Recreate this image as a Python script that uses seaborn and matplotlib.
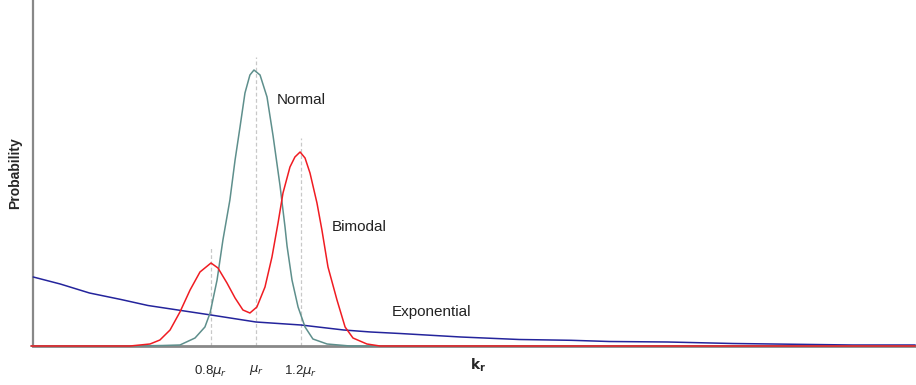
import pandas as pd
import matplotlib.pyplot as plt
import seaborn as sns

# x in units of mu_r, y in arbitrary probability units
normal_x = [0.0, 0.44, 0.587, 0.662, 0.729, 0.773, 0.796, 0.827, 0.853, 0.884, 0.907, 0.929,
            0.951, 0.973, 0.991, 1.018, 1.049, 1.076, 1.107, 1.129, 1.138, 1.16, 1.187,
            1.218, 1.253, 1.316, 1.418, 3.93]
normal_y = [0, 0, 0.5, 1, 8, 19, 33, 66, 106, 146, 186, 219,
            253, 271, 276, 271, 249, 210, 160, 119, 100, 66, 39,
            19, 7, 2, 0, 0]

bimodal_x = [0.0, 0.44, 0.529, 0.573, 0.618, 0.662, 0.707, 0.751, 0.80, 0.831, 0.871, 0.907,
             0.942, 0.973, 1.004, 1.04, 1.071, 1.098, 1.12, 1.151, 1.173, 1.196, 1.218,
             1.24, 1.271, 1.293, 1.32, 1.36, 1.396, 1.431, 1.493, 1.551, 3.93]
bimodal_y = [0, 0, 2, 6, 16, 34, 56, 74, 83, 78, 63, 48,
             36, 33, 39, 59, 89, 123, 153, 179, 189, 194, 188,
             173, 143, 116, 79, 46, 19, 8, 2, 0, 0]

expo_x = [0.01, 0.13, 0.26, 0.40, 0.52, 0.80, 1.00, 1.20, 1.39, 1.51, 1.64, 1.91,
          2.17, 2.40, 2.57, 2.83, 3.12, 3.65, 3.93]
expo_y = [69, 62, 53, 46.5, 40.5, 31, 24, 21, 16, 14, 12.5, 9,
          6.5, 5.7, 4.5, 4, 2.5, 1, 1]

tick_pos = [0.8, 1.0, 1.2]
tick_labels = [r"0.8$\mu_r$", r"$\mu_r$", r"1.2$\mu_r$"]
guide_top = [98, 289, 208]

df = pd.concat([
    pd.DataFrame({"k": expo_x, "p": expo_y, "dist": "Exponential"}),
    pd.DataFrame({"k": normal_x, "p": normal_y, "dist": "Normal"}),
    pd.DataFrame({"k": bimodal_x, "p": bimodal_y, "dist": "Bimodal"}),
], ignore_index=True)

sns.set_style("white")
plt.rcParams["font.family"] = ["Liberation Sans", "DejaVu Sans"]

fig = plt.figure(figsize=(9.16, 3.85), dpi=100)
ax = fig.add_axes([33 / 916, 39 / 385, 882 / 916, 346 / 385])

# dashed guides at the tick positions
ax.vlines(tick_pos, 0, guide_top, colors="#c8c8c8", linestyles=(0, (3, 2)), linewidth=0.9, zorder=1)

palette = {"Exponential": "#24249c", "Normal": "#5e8f8c", "Bimodal": "#f01c22"}
sns.lineplot(data=df, x="k", y="p", hue="dist", palette=palette, estimator=None,
             sort=False, linewidth=1.1, legend=False, ax=ax, zorder=3)
for ln in ax.lines:
    ln.set_clip_on(False)

ax.set_xlim(0.0089, 3.929)
ax.set_ylim(0, 346)
ax.set_yticks([])
ax.set_xticks(tick_pos)
ax.set_xticklabels(tick_labels, fontsize=9.5)
ax.tick_params(axis="x", direction="out", length=4, width=0.8, color="#555555", pad=8)

for s in ["top", "right"]:
    ax.spines[s].set_visible(False)
ax.spines["left"].set_color("#888888")
ax.spines["left"].set_linewidth(1.6)
ax.spines["bottom"].set_color("#888888")
ax.spines["bottom"].set_linewidth(2)

ax.text(1.093, 246, "Normal", fontsize=11, color="#222222", va="center")
ax.text(1.338, 119, "Bimodal", fontsize=11, color="#222222", va="center")
ax.text(1.604, 34, "Exponential", fontsize=11, color="#222222", va="center")

ax.set_xlabel(r"$\mathbf{k_r}$", fontsize=10)
ax.xaxis.set_label_coords(0.505, -0.03)
ax.set_ylabel("Probability", fontsize=10, fontweight="bold", labelpad=8)

fig.savefig("out.png", dpi=100)
